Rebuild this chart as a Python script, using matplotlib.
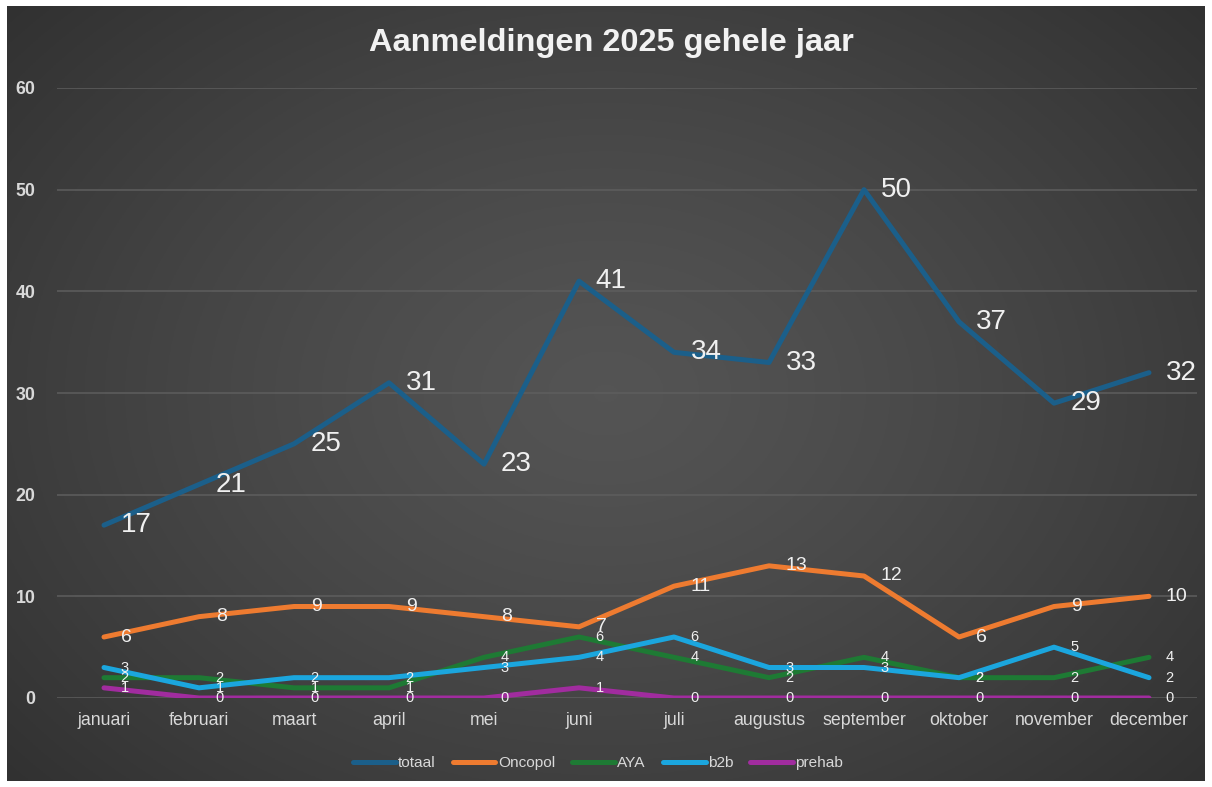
"""Aanmeldingen 2025: line chart per category with value labels."""

import numpy as np
import matplotlib
matplotlib.use("Agg")
import matplotlib.pyplot as plt
from matplotlib import font_manager

# data
maanden = ["januari", "februari", "maart", "april", "mei", "juni", "juli",
           "augustus", "september", "oktober", "november", "december"]
totaal = [17, 21, 25, 31, 23, 41, 34, 33, 50, 37, 29, 32]
oncopol = [6, 8, 9, 9, 8, 7, 11, 13, 12, 6, 9, 10]
aya = [2, 2, 1, 1, 4, 6, 4, 2, 4, 2, 2, 4]
b2b = [3, 1, 2, 2, 3, 4, 6, 3, 3, 2, 5, 2]
prehab = [1, 0, 0, 0, 0, 1, 0, 0, 0, 0, 0, 0]

series = [
    ("totaal", totaal, "#1B5F8A", 20),
    ("Oncopol", oncopol, "#EE7B30", 14),
    ("AYA", aya, "#1E7A34", 10.5),
    ("b2b", b2b, "#1BA6DE", 10.5),
    ("prehab", prehab, "#A12C9F", 10.5),
]

# pick a condensed family if one is there
names = {f.name for f in font_manager.fontManager.ttflist}
if "Liberation Sans Narrow" in names:
    NARROW, nscale = "Liberation Sans Narrow", 1.0
elif "DejaVu Sans Condensed" in names:
    NARROW, nscale = "DejaVu Sans Condensed", 0.88
else:
    NARROW, nscale = "Liberation Sans", 0.85
PLAIN = "Liberation Sans" if "Liberation Sans" in names else "DejaVu Sans"
TXT = "#D9D9D9"

W, H = 1212, 787
fig = plt.figure(figsize=(W / 100, H / 100), dpi=100, facecolor="white")

# dark radial gradient background
bg = fig.add_axes([7 / W, 6 / H, 1198 / W, 775 / H])
yy, xx = np.mgrid[0:1:300j, 0:1:460j]
r = np.sqrt(((xx - 0.5) / 0.75) ** 2 + ((yy - 0.5) / 0.85) ** 2)
g = np.clip(0.33 - 0.16 * r ** 1.3, 0.15, 0.35)
bg.imshow(np.dstack([g, g, g]), aspect="auto", extent=[0, 1, 0, 1])
bg.set_axis_off()

# plot area: x from 56.5 to 1196.5 px, y 0 at 698, 60 at 88
ax = fig.add_axes([56.5 / W, (H - 698) / H, 1140 / W, 610 / H])
ax.set_facecolor("none")
x = np.arange(len(maanden))

for name, vals, col, fs in series:
    ax.plot(x, vals, color=col, lw=3.6, label=name, solid_capstyle="round",
            solid_joinstyle="round", zorder=3)
    for xi, v in zip(x, vals):
        ax.annotate(str(v), (xi, v), xytext=(12, 0), textcoords="offset points",
                    ha="left", va="center", fontsize=fs, color="#F0F0F0",
                    family=PLAIN, zorder=5)

ax.set_xlim(-0.5, len(maanden) - 0.5)
ax.set_ylim(0, 60)
ax.set_yticks(range(0, 61, 10))
ax.set_xticks(x)
ax.set_xticklabels(maanden, fontsize=15 * nscale, color=TXT, family=NARROW)
for lbl in ax.get_yticklabels():
    lbl.set_fontsize(15 * nscale)
    lbl.set_color(TXT)
    lbl.set_family(NARROW)
    lbl.set_fontweight("bold")
ax.tick_params(axis="both", length=0)
ax.tick_params(axis="y", pad=15)
ax.tick_params(axis="x", pad=10)
ax.grid(axis="y", color="#5E5E5E", lw=1.1, zorder=0)
for s in ax.spines.values():
    s.set_visible(False)

fig.text(611 / W, 1 - 43 / H, "Aanmeldingen 2025 gehele jaar", ha="center",
         va="center", fontsize=27.5 * nscale, fontweight="bold", color="#F2F2F2",
         family=NARROW)

leg = fig.legend(loc="center", bbox_to_anchor=(598 / W, 1 - 763 / H), ncol=5,
                 frameon=False, handlelength=2.8, columnspacing=1.1,
                 handletextpad=0.15, prop={"family": NARROW, "size": 13 * nscale})
for t in leg.get_texts():
    t.set_color(TXT)

fig.savefig("out.png", dpi=100, facecolor="white")
